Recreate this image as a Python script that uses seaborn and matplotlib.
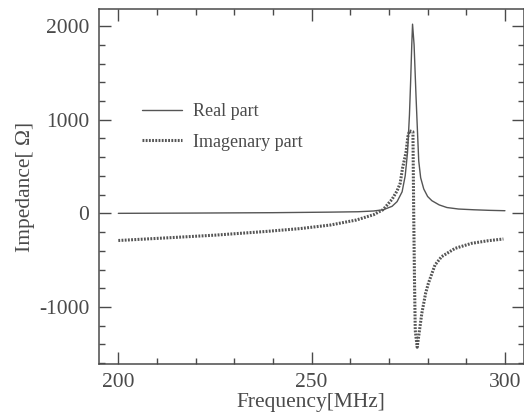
import pandas as pd
import seaborn as sns
import matplotlib
matplotlib.use("Agg")
import matplotlib.pyplot as plt
from matplotlib.ticker import MultipleLocator

# values
real_freq = [200, 220, 240, 255, 262, 266, 268.5, 270.8, 272.1, 273.4, 274.2,
             274.8, 275.3, 275.6, 275.9, 276.1, 276.5, 277.0, 277.4, 277.7,
             278.2, 279.0, 280.0, 281.1, 283, 285, 288, 292, 296, 300]
real_val = [0, 3, 7, 13, 17, 25, 38, 75, 125, 230, 400,
            650, 1050, 1400, 1800, 2020, 1800, 1250, 850, 560,
            380, 260, 180, 135, 90, 62, 46, 38, 32, 28]

imag_freq = [200, 212.5, 225, 238, 247, 254.8, 261.6, 264, 266, 268.5, 270.8,
             272.1, 272.9, 273.5, 274.4, 274.9, 275.3, 276.2, 276.4, 276.6,
             276.8, 277.3, 278.5, 279.5, 280.2, 281.9, 283.6, 287.1, 291.4,
             295.7, 299.6]
imag_val = [-290, -262, -233, -194, -163, -125, -71, -40, -15, 40, 150,
            240, 320, 480, 650, 820, 880, 870, 0, -700,
            -1250, -1430, -1067, -850, -747, -552, -463, -374, -320,
            -292, -274]

labels = ["Real part", "Imagenary part"]

real_df = pd.DataFrame({"freq": real_freq, "z": real_val})
imag_df = pd.DataFrame({"freq": imag_freq, "z": imag_val})

sns.set_theme(style="ticks")
plt.rcParams["font.family"] = ["Liberation Serif", "DejaVu Serif"]
plt.rcParams["axes.unicode_minus"] = False

ink = "#4a4a4a"
fig = plt.figure(figsize=(5.24, 4.2), dpi=100)
ax = fig.add_axes([99 / 524, 1 - 364.3 / 420, 424.5 / 524, 355.3 / 420])

sns.lineplot(data=real_df, x="freq", y="z", ax=ax, color="#555555",
             linewidth=1.0, sort=False, estimator=None, label=labels[0])
sns.lineplot(data=imag_df, x="freq", y="z", ax=ax, color="#555555",
             linewidth=2.2, linestyle=(0, (0.6, 0.45)), sort=False,
             estimator=None, label=labels[1])

ax.set_xlim(195.0, 304.8)
ax.set_ylim(-1612, 2182)
ax.xaxis.set_major_locator(MultipleLocator(50))
ax.xaxis.set_minor_locator(MultipleLocator(10))
ax.yaxis.set_major_locator(MultipleLocator(1000))
ax.yaxis.set_minor_locator(MultipleLocator(200))

ax.tick_params(which="both", direction="in", top=True, right=True,
               color=ink, width=1.0, labelcolor=ink, labelsize=15.5)
ax.tick_params(which="major", length=8.5)
ax.tick_params(which="minor", length=4.5)
ax.tick_params(axis="x", pad=6)
ax.tick_params(axis="y", pad=7)
for s in ax.spines.values():
    s.set_color(ink)
    s.set_linewidth(1.1)

ax.set_xlabel("Frequency[MHz]", fontsize=15.5, color=ink, labelpad=1)
ax.set_ylabel("Impedance[ \u03a9]", fontsize=15.5, color=ink, labelpad=3)

leg = ax.legend(loc="center left", bbox_to_anchor=(142 / 524, 1 - 127 / 420),
                bbox_transform=fig.transFigure, frameon=False, fontsize=13,
                handlelength=2.2, handletextpad=0.65, labelspacing=0.75,
                borderpad=0, borderaxespad=0)
for t in leg.get_texts():
    t.set_color(ink)

fig.savefig("out.png", dpi=100, facecolor="white")
